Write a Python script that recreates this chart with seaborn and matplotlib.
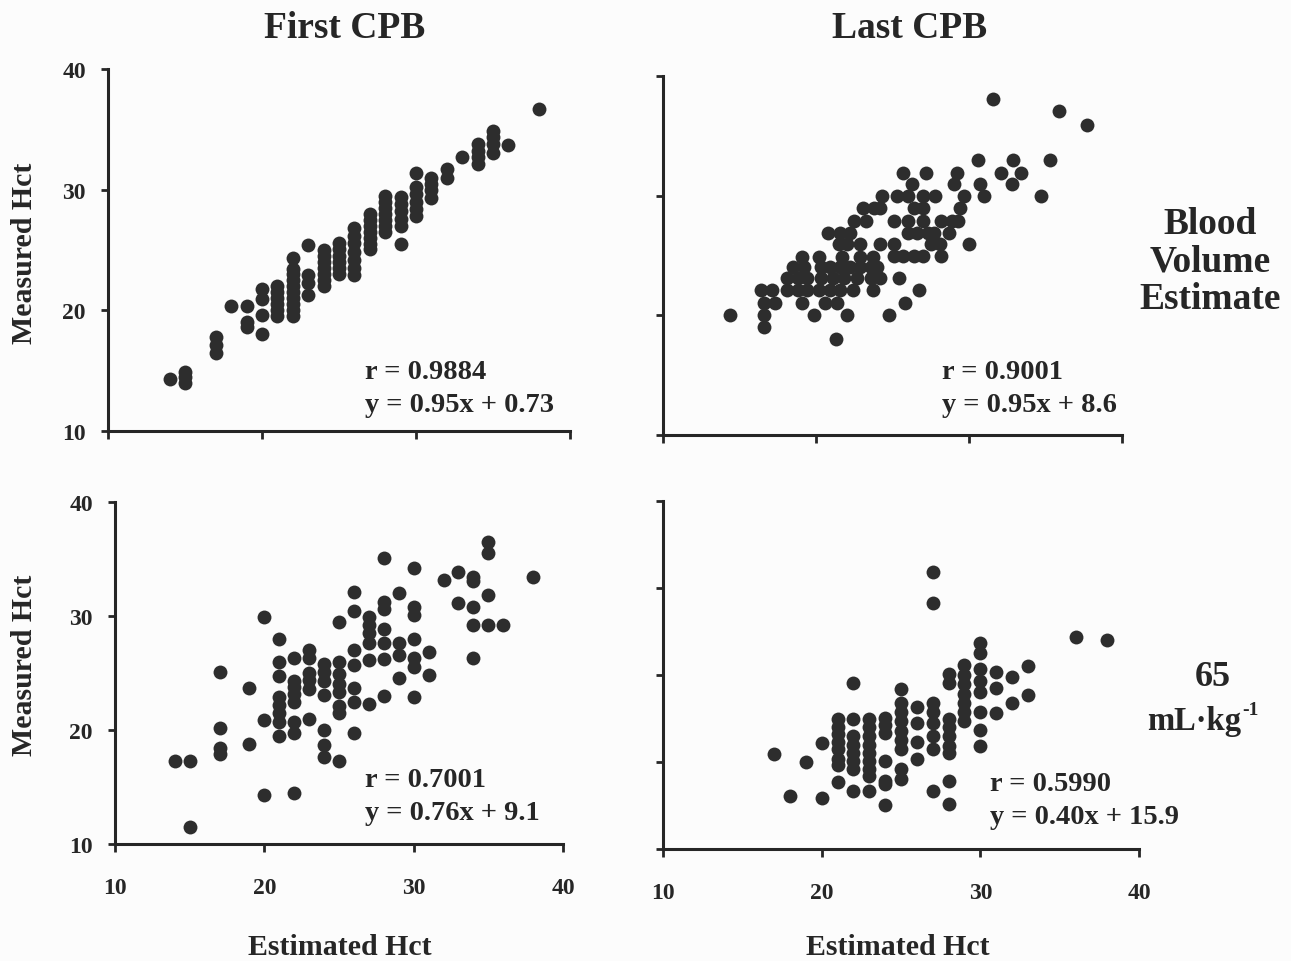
import matplotlib
matplotlib.use("Agg")
import matplotlib.pyplot as plt
import seaborn as sns

# Blood volume estimate, first CPB
bv_first_x = [14, 15, 15, 15, 17, 17, 17, 18, 19, 19, 19, 20, 20, 20, 20,
              21, 21, 21, 21, 21, 21,
              22, 22, 22, 22, 22, 22, 22, 22, 22, 22,
              23, 23, 23, 23,
              24, 24, 24, 24, 24, 24, 24,
              25, 25, 25, 25, 25, 25,
              26, 26, 26, 26, 26, 26, 26,
              27, 27, 27, 27, 27, 27, 27,
              28, 28, 28, 28, 28, 28, 28,
              29, 29, 29, 29, 29, 29,
              30, 30, 30, 30, 30, 30,
              31, 31, 31, 31, 32, 32, 33,
              34, 34, 34, 34, 35, 35, 35, 35, 36, 38]
bv_first_y = [14.3, 14.9, 14.5, 14.0, 17.8, 17.1, 16.5, 20.4, 20.4, 19.0, 18.6, 21.8, 20.9, 19.6, 18.0,
              22.0, 21.5, 21.0, 20.5, 20.0, 19.5,
              24.3, 23.4, 23.0, 22.5, 22.0, 21.5, 21.0, 20.5, 20.0, 19.5,
              25.4, 22.9, 22.3, 21.3,
              25.0, 24.5, 24.0, 23.5, 23.0, 22.5, 22.0,
              25.6, 25.1, 24.5, 24.0, 23.5, 23.0,
              26.8, 26.2, 25.6, 24.8, 24.2, 23.5, 22.9,
              28.0, 27.5, 27.0, 26.5, 26.0, 25.5, 25.1,
              29.5, 29.0, 28.5, 28.0, 27.5, 27.0, 26.5,
              29.4, 28.8, 28.2, 27.6, 27.0, 25.5,
              31.4, 30.2, 29.6, 29.0, 28.4, 27.8,
              31.0, 30.5, 30.0, 29.3, 31.7, 31.0, 32.7,
              33.8, 33.2, 32.7, 32.1, 34.9, 34.4, 33.8, 33.0, 33.7, 36.7]

# Blood volume estimate, last CPB
bv_last_x = [16.4, 17.1, 18.1, 18.8, 19.4, 20.2, 20.9, 21.6, 22.4, 23.7, 26.7,
             18.1, 18.8, 19.4, 20.3, 21.1, 21.8, 22.7, 23.6, 24.2, 25.4,
             18.5, 19.2, 20.3, 20.9, 21.6, 22.2, 22.9, 23.6, 24.0,
             19.1, 20.2, 21.7, 22.9, 23.7,
             21.5, 22.0, 22.9, 24.2, 25.1, 27.5, 28.1, 30.0,
             25.1, 25.7, 26.4, 27.0, 28.2,
             20.8, 21.6, 22.2, 26.0, 26.6, 27.3, 27.7, 28.7,
             22.5, 23.3, 25.1, 26.0, 27.0, 28.2, 28.9, 29.3,
             23.1, 23.8, 24.2, 26.4, 27.0, 29.4,
             24.3, 25.3, 26.0, 27.0, 27.8, 29.7, 31.0, 34.7,
             26.3, 29.0, 30.7, 32.8,
             25.7, 27.2, 29.2, 32.1, 33.4,
             30.6, 32.9, 35.3,
             16.6, 17.3, 19.1, 20.6, 21.4, 25.8,
             14.4, 16.6, 19.9, 22.0, 24.8,
             16.6, 21.3, 31.6, 35.9, 37.7]
bv_last_y = [22.1, 22.1, 22.1, 22.1, 22.1, 22.1, 22.1, 22.1, 22.1, 22.1, 22.1,
             23.1, 23.1, 23.1, 23.1, 23.1, 23.1, 23.1, 23.1, 23.1, 23.1,
             24.0, 24.0, 24.0, 24.0, 24.0, 24.0, 24.0, 24.0, 24.0,
             24.9, 24.9, 24.9, 24.9, 24.9,
             26.0, 26.0, 26.0, 26.0, 26.0, 26.0, 26.0, 26.0,
             25.0, 25.0, 25.0, 25.0, 25.0,
             26.9, 26.9, 26.9, 26.9, 26.9, 26.9, 26.9, 26.9,
             27.9, 27.9, 27.9, 27.9, 27.9, 27.9, 27.9, 27.9,
             29.0, 29.0, 29.0, 29.0, 29.0, 29.0,
             30.0, 30.0, 30.0, 30.0, 30.0, 30.0, 30.0, 30.0,
             31.0, 31.0, 31.0, 31.0,
             31.9, 31.9, 31.9, 31.9, 31.9,
             33.0, 33.0, 33.0,
             21.0, 21.0, 21.0, 21.0, 21.0, 21.0,
             20.0, 20.0, 20.0, 20.0, 20.0,
             19.0, 18.0, 38.1, 37.1, 35.9]

# 65 mL/kg estimate, first CPB
ml_first_x = [14, 15, 15, 17, 17, 17, 17, 19, 19, 20, 20, 20,
              21, 21, 21, 21, 21, 21, 21, 21,
              22, 22, 22, 22, 22, 22, 22, 22,
              23, 23, 23, 23, 23, 23,
              24, 24, 24, 24, 24, 24, 24,
              25, 25, 25, 25, 25, 25, 25, 25,
              26, 26, 26, 26, 26, 26, 26,
              27, 27, 27, 27, 27, 27,
              28, 28, 28, 28, 28, 28, 28,
              29, 29, 29, 29,
              30, 30, 30, 30, 30, 30, 30,
              31, 31, 32, 33, 33,
              34, 34, 34, 34, 34, 35, 35, 35, 35, 36, 38]
ml_first_y = [17.3, 17.3, 11.5, 25.1, 20.2, 18.4, 17.9, 23.7, 18.8, 29.9, 20.9, 14.3,
              28.0, 26.0, 24.7, 22.9, 22.2, 21.5, 20.7, 19.5,
              26.3, 24.3, 23.8, 23.2, 22.5, 20.7, 19.7, 14.5,
              27.0, 26.3, 25.0, 24.4, 23.6, 21.0,
              25.8, 25.1, 24.3, 23.1, 20.0, 18.7, 17.6,
              29.5, 26.0, 24.9, 24.0, 23.3, 22.1, 21.5, 17.3,
              32.1, 30.4, 27.0, 25.7, 23.7, 22.5, 19.7,
              29.9, 29.2, 28.5, 27.6, 26.1, 22.3,
              35.1, 31.2, 30.6, 28.9, 27.6, 26.2, 23.0,
              32.0, 27.6, 26.6, 24.6,
              34.2, 30.8, 30.1, 28.0, 26.3, 25.5, 22.9,
              26.8, 24.8, 33.2, 33.9, 31.1,
              33.4, 33.1, 30.8, 29.2, 26.3, 36.5, 35.5, 31.8, 29.2, 29.2, 33.4]

# 65 mL/kg estimate, last CPB
ml_last_x = [17, 18, 19, 20, 20,
             21, 21, 21, 21, 21, 21, 21, 21,
             22, 22, 22, 22, 22, 22, 22, 22,
             23, 23, 23, 23, 23, 23, 23, 23, 23,
             24, 24, 24, 24, 24, 24, 24,
             25, 25, 25, 25, 25, 25, 25, 25, 25,
             26, 26, 26, 26,
             27, 27, 27, 27, 27, 27, 27, 27,
             28, 28, 28, 28, 28, 28, 28, 28, 28,
             29, 29, 29, 29, 29, 29, 29,
             30, 30, 30, 30, 30, 30, 30, 30,
             31, 31, 31, 32, 32, 33, 33, 36, 38]
ml_last_y = [18.2, 14.6, 17.5, 19.1, 14.4,
             21.2, 20.5, 19.9, 19.2, 18.6, 17.8, 17.2, 15.8,
             24.3, 21.2, 19.7, 19.0, 18.3, 17.6, 16.9, 15.0,
             21.2, 20.5, 19.7, 19.0, 18.3, 17.6, 16.9, 16.3, 15.0,
             21.3, 20.7, 20.0, 17.6, 15.9, 15.6, 13.8,
             23.8, 22.6, 21.8, 21.0, 20.2, 19.4, 18.6, 16.9, 16.0,
             22.2, 20.9, 19.2, 17.8,
             33.9, 31.2, 22.6, 21.8, 20.9, 19.7, 18.6, 15.0,
             25.1, 24.3, 21.2, 20.5, 19.7, 18.9, 18.3, 15.9, 13.9,
             25.9, 25.0, 24.2, 23.4, 22.6, 21.8, 21.0,
             27.8, 26.9, 25.5, 24.5, 23.5, 21.8, 20.3, 18.9,
             25.3, 23.9, 21.7, 24.8, 22.6, 25.8, 23.3, 28.3, 28.0]

stats_text = ["r = 0.9884\ny = 0.95x + 0.73", "r = 0.9001\ny = 0.95x + 8.6",
              "r = 0.7001\ny = 0.76x + 9.1", "r = 0.5990\ny = 0.40x + 15.9"]

sns.set_theme(style="ticks")
plt.rcParams['font.family'] = ['Liberation Serif', 'DejaVu Serif']
plt.rcParams['font.weight'] = 'bold'

W, H = 1291, 962
fig = plt.figure(figsize=(W / 100, H / 100), dpi=100)
fig.patch.set_facecolor('#fcfcfc')

def px_rect(left, top, right, bottom):
    return [left / W, 1 - bottom / H, (right - left) / W, (bottom - top) / H]

panels = [
    (bv_first_x, bv_first_y, px_rect(108, 70, 570, 432), [10, 20, 30, 40], True, False, (365, 389)),
    (bv_last_x, bv_last_y, px_rect(663, 77, 1122, 436), [10, 20, 30, 40], False, False, (942, 389)),
    (ml_first_x, ml_first_y, px_rect(115, 503, 563, 845), [10, 20, 30, 40], True, True, (365, 797)),
    (ml_last_x, ml_last_y, px_rect(663, 502, 1139, 850), [10, 17.5, 25, 32.5, 40], False, True, (990, 801)),
]

for i, (xs, ys, rect, yt, show_y, show_x, txt_pos) in enumerate(panels):
    ax = fig.add_axes(rect)
    ax.set_facecolor('none')
    sns.scatterplot(x=xs, y=ys, ax=ax, color='#2d2d2d', s=100, linewidth=0,
                    marker='o', legend=False, clip_on=False)
    ax.set_xlim(10, 40)
    ax.set_ylim(10, 40)
    ax.set_xticks([10, 20, 30, 40])
    ax.set_yticks(yt)
    sns.despine(ax=ax)
    for side in ['left', 'bottom']:
        ax.spines[side].set_linewidth(2.2)
        ax.spines[side].set_color('#262626')
    ax.tick_params(axis='x', direction='out', length=6, width=2, pad=18,
                   labelsize=17, color='#262626', labelcolor='#262626')
    ax.tick_params(axis='y', direction='out', length=5, width=2, pad=11,
                   labelsize=17, color='#262626', labelcolor='#262626')
    if not show_y:
        ax.set_yticklabels([])
    if not show_x:
        ax.set_xticklabels([])
    ax.set_xlabel('')
    ax.set_ylabel('')
    fig.text(txt_pos[0] / W, 1 - txt_pos[1] / H, stats_text[i], ha='left', va='center',
             fontsize=20.5, fontweight='bold', color='#262626', linespacing=1.45)

def ftext(x, y, s, **kw):
    kw.setdefault('ha', 'center')
    fig.text(x / W, 1 - y / H, s, va='center', fontweight='bold',
             color='#262626', **kw)

ftext(345, 28, 'First CPB', fontsize=27)
ftext(910, 28, 'Last CPB', fontsize=27)
ftext(340, 948, 'Estimated Hct', fontsize=21.5)
ftext(898, 948, 'Estimated Hct', fontsize=21.5)
ftext(25, 253, 'Measured Hct', fontsize=21.5, rotation=90)
ftext(25, 665, 'Measured Hct', fontsize=21.5, rotation=90)
ftext(1210, 262, 'Blood\nVolume\nEstimate', fontsize=27, linespacing=1.1)
ftext(1213, 677, '65', fontsize=26)
ftext(1241, 722, 'mL·kg', fontsize=23.5, ha='right')
ftext(1242, 711, '-1', fontsize=14, ha='left')

fig.savefig('out.png', dpi=100, facecolor=fig.get_facecolor())
